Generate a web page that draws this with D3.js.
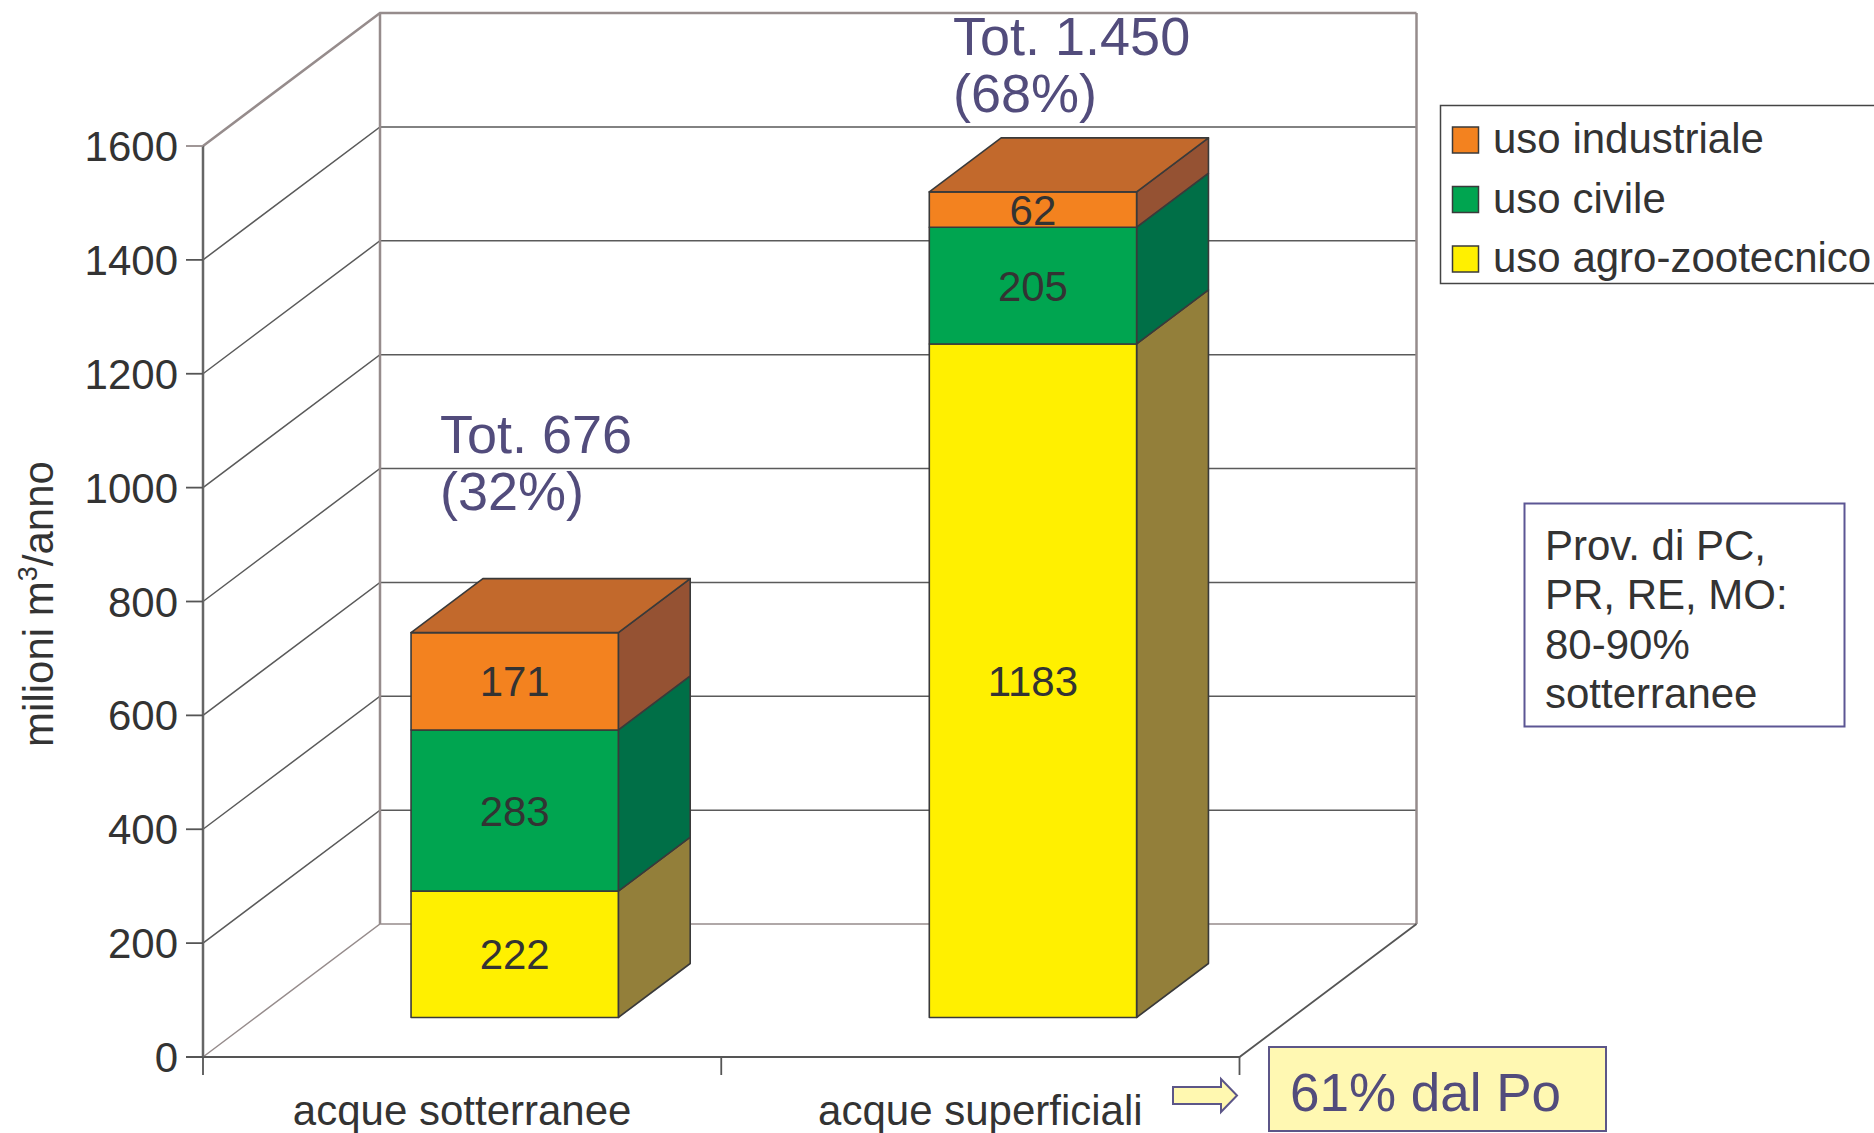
<!DOCTYPE html>
<html>
<head>
<meta charset="utf-8">
<script src="https://cdn.jsdelivr.net/npm/d3@7"></script>
<style>
  body { margin: 0; background: #fff; }
  svg { display: block; font-family: "Liberation Sans", Arial, Helvetica, sans-serif; }
</style>
</head>
<body>
<div id="chart"></div>
<script>
// data
var categories = ["acque sotterranee", "acque superficiali"];
var agro = [222, 1183];
var civile = [283, 205];
var industriale = [171, 62];
var seriesKeys = ["agro", "civile", "industriale"];
var legendLabels = ["uso industriale", "uso civile", "uso agro-zootecnico"];
var yTicks = [0, 200, 400, 600, 800, 1000, 1200, 1400, 1600];
var totLines = [["Tot. 676", "(32%)"], ["Tot. 1.450", "(68%)"]];
var provLines = ["Prov. di PC,", "PR, RE, MO:", "80-90%", "sotterranee"];
var poLabel = "61% dal Po";

var colors = {
  agro:        { front: "#fff000", side: "#937f3a", top: "#c9bb22" },
  civile:      { front: "#00a550", side: "#006f47", top: "#1f8a55" },
  industriale: { front: "#f3821f", side: "#955233", top: "#c2692c" }
};

var W = 1874, H = 1133;
var svg = d3.select("#chart").append("svg").attr("width", W).attr("height", H);

// 3d-ish layout
var DX = 177, DY = -133;
var x = d3.scaleBand().domain(categories).range([203, 1239.5]).paddingInner(0.6).paddingOuter(0.3);
var y = d3.scaleLinear().domain([0, 1600]).range([1057, 146]);
var x0 = 203, x1 = 1239.5;
function P(xs, v, z) { return [xs + z * DX, y(v) + z * DY]; }
function pts(arr) { return arr.map(function(p){ return p.join(","); }).join(" "); }

var edge = "#968c8c", grid = "#5a5a5a";

// back wall + left wall grid
yTicks.forEach(function(v) {
  var c = (v === 0 || v === 1600) ? edge : grid;
  svg.append("polyline")
    .attr("points", pts([P(x0, v, 0), P(x0, v, 1), P(x1, v, 1)]))
    .attr("fill", "none").attr("stroke", c).attr("stroke-width", v === 1600 ? 2.5 : 1.5);
});
svg.append("line")
  .attr("x1", P(x0, 0, 1)[0]).attr("y1", P(x0, 0, 1)[1])
  .attr("x2", P(x0, 1600, 1)[0]).attr("y2", P(x0, 1600, 1)[1])
  .attr("stroke", edge).attr("stroke-width", 2.5);
svg.append("line")
  .attr("x1", P(x1, 0, 1)[0]).attr("y1", P(x1, 0, 1)[1])
  .attr("x2", P(x1, 1600, 1)[0]).attr("y2", P(x1, 1600, 1)[1])
  .attr("stroke", edge).attr("stroke-width", 2.5);
// floor
svg.append("polyline")
  .attr("points", pts([P(x1, 0, 1), P(x1, 0, 0), P(x0, 0, 0)]))
  .attr("fill", "none").attr("stroke", "#555").attr("stroke-width", 1.8);
svg.append("line")
  .attr("x1", x0 - 17).attr("x2", x0).attr("y1", y(0)).attr("y2", y(0))
  .attr("stroke", "#555").attr("stroke-width", 1.8);

// front y axis
svg.append("line")
  .attr("x1", x0).attr("x2", x0).attr("y1", y(0)).attr("y2", y(1600))
  .attr("stroke", "#666").attr("stroke-width", 2.5);
yTicks.forEach(function(v) {
  svg.append("line").attr("x1", x0 - 17).attr("x2", x0).attr("y1", y(v)).attr("y2", y(v))
    .attr("stroke", v === 1600 ? edge : "#555").attr("stroke-width", 1.8);
  svg.append("text").attr("x", 178).attr("y", y(v)).attr("dy", "0.36em")
    .attr("text-anchor", "end").attr("font-size", 42).attr("fill", "#333").text(v);
});

// category ticks and labels
[x0, x0 + x.step(), x1].forEach(function(t) {
  svg.append("line").attr("x1", t).attr("x2", t).attr("y1", y(0)).attr("y2", y(0) + 18)
    .attr("stroke", "#555").attr("stroke-width", 1.8);
});
categories.forEach(function(c) {
  svg.append("text").attr("x", x(c) + x.bandwidth() / 2).attr("y", 1125)
    .attr("text-anchor", "middle").attr("font-size", 42).attr("fill", "#333").text(c);
});

// stacked bars
var rows = categories.map(function(c, i) {
  return { cat: c, agro: agro[i], civile: civile[i], industriale: industriale[i] };
});
var stack = d3.stack().keys(seriesKeys)(rows);
var z0 = 0.297, z1 = 0.703;
var bars = svg.append("g").attr("stroke", "#3a3a3a").attr("stroke-width", 1.6).attr("stroke-linejoin", "round");
stack.forEach(function(layer, li) {
  var col = colors[layer.key];
  layer.forEach(function(d) {
    var xl = x(d.data.cat), xr = xl + x.bandwidth();
    var v0 = d[0], v1 = d[1];
    bars.append("polygon")
      .attr("points", pts([P(xr, v0, z0), P(xr, v0, z1), P(xr, v1, z1), P(xr, v1, z0)]))
      .attr("fill", col.side);
    bars.append("polygon")
      .attr("points", pts([P(xl, v0, z0), P(xr, v0, z0), P(xr, v1, z0), P(xl, v1, z0)]))
      .attr("fill", col.front);
    if (li === stack.length - 1) {
      bars.append("polygon")
        .attr("points", pts([P(xl, v1, z0), P(xr, v1, z0), P(xr, v1, z1), P(xl, v1, z1)]))
        .attr("fill", col.top);
    }
    svg.append("text")
      .attr("x", (xl + xr) / 2 + z0 * DX)
      .attr("y", (y(v0) + y(v1)) / 2 + z0 * DY)
      .attr("dy", "0.36em").attr("text-anchor", "middle")
      .attr("font-size", 42).attr("fill", "#333").text(v1 - v0);
  });
});

// totals annotations
var totPos = [[440, 453], [953, 55]];
totLines.forEach(function(lines, i) {
  lines.forEach(function(t, k) {
    svg.append("text").attr("x", totPos[i][0]).attr("y", totPos[i][1] + k * 57)
      .attr("font-size", 54).attr("fill", "#524c7c").text(t);
  });
});

// legend
var lg = svg.append("g");
lg.append("rect").attr("x", 1440.5).attr("y", 105.5).attr("width", 500).attr("height", 178)
  .attr("fill", "#fff").attr("stroke", "#444").attr("stroke-width", 1.5);
var legendKeys = ["industriale", "civile", "agro"];
legendKeys.forEach(function(k, i) {
  lg.append("rect").attr("x", 1452.5).attr("y", 127 + i * 59.5).attr("width", 26).attr("height", 26)
    .attr("fill", colors[k].front).attr("stroke", "#3a3a3a").attr("stroke-width", 1.5);
  lg.append("text").attr("x", 1493).attr("y", 153 + i * 59.5)
    .attr("font-size", 42).attr("fill", "#333").text(legendLabels[i]);
});

// provinces box
svg.append("rect").attr("x", 1524.5).attr("y", 503.5).attr("width", 320).attr("height", 223)
  .attr("fill", "#fff").attr("stroke", "#5c5694").attr("stroke-width", 2);
provLines.forEach(function(t, i) {
  svg.append("text").attr("x", 1545).attr("y", 560 + i * 49.3)
    .attr("font-size", 42).attr("fill", "#333").text(t);
});

// arrow + Po box
svg.append("polygon")
  .attr("points", "1173,1087 1221,1087 1221,1079 1237,1095.5 1221,1112 1221,1104 1173,1104")
  .attr("fill", "#fff8b0").attr("stroke", "#5c5688").attr("stroke-width", 2);
svg.append("rect").attr("x", 1269).attr("y", 1047).attr("width", 337).attr("height", 84)
  .attr("fill", "#fff8b2").attr("stroke", "#5c5688").attr("stroke-width", 2);
svg.append("text").attr("x", 1290).attr("y", 1111).attr("font-size", 53)
  .attr("fill", "#524c7c").text(poLabel);

// y axis title
var yt = svg.append("text").attr("transform", "translate(53,604) rotate(-90)")
  .attr("text-anchor", "middle").attr("font-size", 42).attr("fill", "#333");
yt.append("tspan").text("milioni m");
yt.append("tspan").attr("dy", -16).attr("font-size", 27).text("3");
yt.append("tspan").attr("dy", 16).text("/anno");
</script>
</body>
</html>
